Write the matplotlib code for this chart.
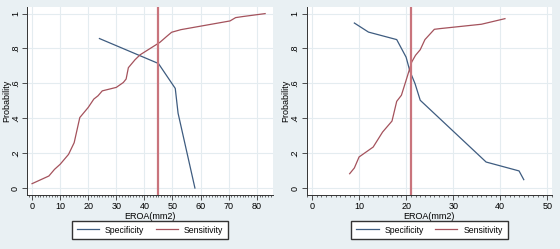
import numpy as np
import matplotlib
matplotlib.use("Agg")
import matplotlib.pyplot as plt
from matplotlib.ticker import MultipleLocator, FixedLocator

plt.rcParams['font.family'] = ['Liberation Sans Narrow', 'Liberation Sans', 'DejaVu Sans']

# Panel 1 data
spec1_x = [24, 45, 51, 52, 58]
spec1_y = [0.857, 0.714, 0.571, 0.429, 0.0]
sens1_x = [0, 6, 8, 10, 13, 15, 17, 20, 22, 23.5, 25, 30, 32.5, 33.5, 34.3,
           36.7, 38.5, 45.5, 48, 49.7, 53, 70.5, 72.5, 75, 83]
sens1_y = [0.025, 0.069, 0.107, 0.136, 0.193, 0.26, 0.404, 0.462, 0.51, 0.529,
           0.557, 0.577, 0.605, 0.625, 0.69, 0.736, 0.764, 0.835, 0.87, 0.893,
           0.908, 0.958, 0.977, 0.983, 1.0]
cut1 = 45

# Panel 2 data
spec2_x = [9, 12, 18, 20, 20.8, 21.9, 23, 37, 44, 45]
spec2_y = [0.946, 0.894, 0.851, 0.75, 0.67, 0.598, 0.503, 0.149, 0.098, 0.048]
sens2_x = [8, 9, 10, 13, 15, 17, 18, 19, 20, 21.2, 22, 23, 24, 26, 27.2, 36, 41]
sens2_y = [0.082, 0.115, 0.178, 0.235, 0.321, 0.384, 0.497, 0.532, 0.618, 0.723,
           0.761, 0.793, 0.851, 0.91, 0.914, 0.939, 0.971]
cut2 = 21

yticks = [0, 0.2, 0.4, 0.6, 0.8, 1]
ytick_labels = ['0', '.2', '.4', '.6', '.8', '1']

BG = '#E9F0F3'
GRID = '#E4ECF0'
BLUE = '#3E5C80'
RED = '#A4525C'
VLINE = '#C9747C'

fig = plt.figure(figsize=(5.6, 2.49), dpi=100, facecolor=BG)

W, H = 560, 249


def panel(px_left, px_right, xlim, xmajor, sx, sy, rx, ry, cut, legend_cx):
    ax = fig.add_axes([px_left / W, 1 - 195 / H, (px_right - px_left) / W, (195 - 7.5) / H])
    ax.set_facecolor('white')
    ax.set_xlim(*xlim)
    ax.set_ylim(-0.04, 1.035)
    ax.xaxis.set_major_locator(MultipleLocator(xmajor))
    ax.xaxis.set_minor_locator(MultipleLocator(1))
    ax.yaxis.set_major_locator(FixedLocator(yticks))
    ax.set_yticklabels(ytick_labels, rotation=90, va='center')
    ax.grid(True, color=GRID, lw=0.8)
    ax.set_axisbelow(True)
    for s in ['top', 'right']:
        ax.spines[s].set_visible(False)
    for s in ['left', 'bottom']:
        ax.spines[s].set_color('#333333')
        ax.spines[s].set_linewidth(0.7)
    ax.tick_params(axis='y', which='major', labelsize=6.5, length=3.5, width=0.6,
                   color='#333333', pad=1.5)
    ax.tick_params(axis='x', which='major', labelsize=6.5, length=3.5, width=0.6,
                   color='#333333', pad=1.5)
    ax.tick_params(axis='x', which='minor', length=1.5, width=0.5, color='#333333')
    ax.tick_params(axis='y', which='minor', left=False)

    l1, = ax.plot(sx, sy, color=BLUE, lw=0.9, label='Specificity')
    l2, = ax.plot(rx, ry, color=RED, lw=0.9, label='Sensitivity')
    ax.axvline(cut, color=VLINE, lw=1.6)

    ax.set_xlabel('EROA(mm2)', fontsize=6.5, labelpad=1)
    ax.set_ylabel('Probability', fontsize=6.5, labelpad=0)

    fig.legend(handles=[l1, l2], loc='center', ncol=2,
               bbox_to_anchor=(legend_cx / W, 1 - 230 / H),
               fontsize=6.2, frameon=True, fancybox=False, edgecolor='#333333',
               facecolor='white', framealpha=1, handlelength=2.6,
               columnspacing=1.3, handletextpad=0.7, borderpad=0.55)
    return ax


panel(27, 272.7, (-1.8, 85.7), 10, spec1_x, spec1_y, sens1_x, sens1_y, cut1, 150)
panel(306.5, 552, (-1.17, 51.0), 10, spec2_x, spec2_y, sens2_x, sens2_y, cut2, 429.5)

fig.savefig('out.png', dpi=100, facecolor=BG)
